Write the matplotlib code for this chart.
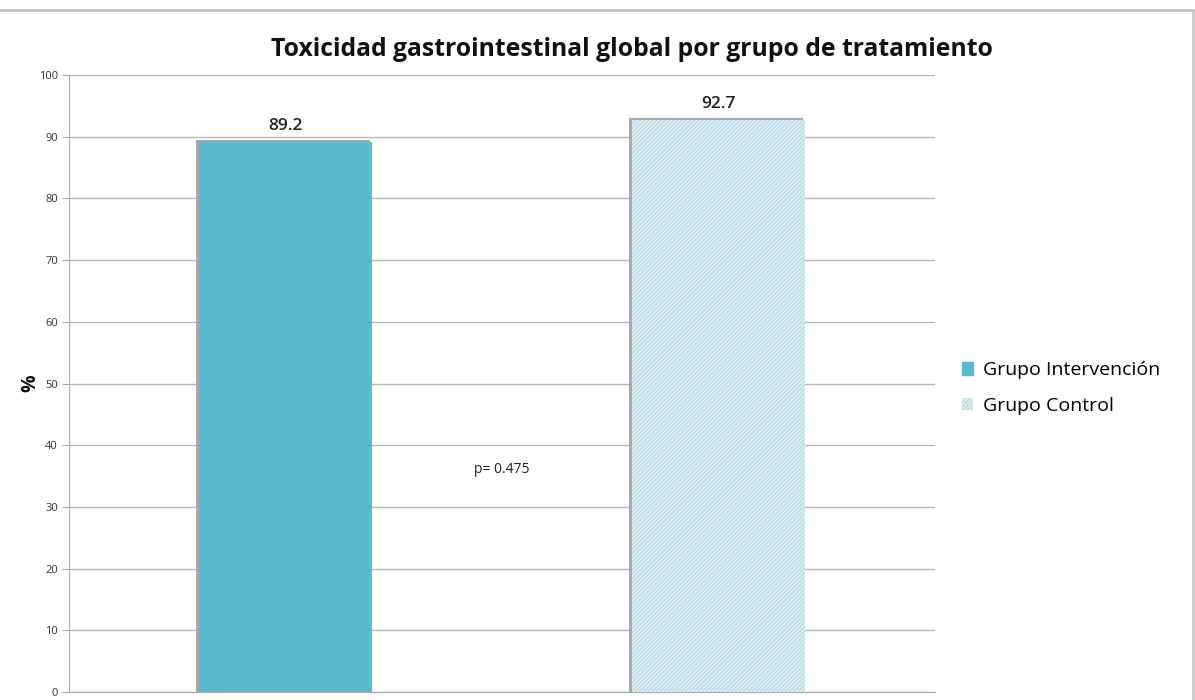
import matplotlib.pyplot as plt
from matplotlib.lines import Line2D
from matplotlib.patches import Patch

plt.rcParams['font.family'] = ['Open Sans', 'DejaVu Sans']
plt.rcParams['hatch.color'] = '#eef7fa'
plt.rcParams['hatch.linewidth'] = 0.7

# data
grupos = ['Grupo Intervención', 'Grupo Control']
valores = [89.2, 92.7]
colores = ['#5bb9ce', '#bfdde8']
hatches = [None, '////////']
p_valor = 'p= 0.475'

W, H = 1195, 700
fig = plt.figure(figsize=(W / 100, H / 100), dpi=100)
ax = fig.add_axes([69 / W, 1 - 692 / H, (935 - 69) / W, (692 - 75) / H])

x = range(len(grupos))
# soft shadow behind the bars
ax.bar([i - 0.006 for i in x], [v + 0.3 for v in valores], width=0.4, color='#aaaaaa', zorder=2)
for i, v in enumerate(valores):
    ax.bar(i, v, width=0.4, color=colores[i], hatch=hatches[i],
           edgecolor='#eef7fa' if hatches[i] else colores[i], linewidth=0, zorder=3)
    ax.text(i, v + 1.3, f'{v}', ha='center', va='bottom', fontsize=12.5,
            fontweight='semibold', color='#222222')

ax.text(0.5, 36, p_valor, ha='center', va='center', fontsize=10, color='#222222')

ax.set_xlim(-0.5, 1.5)
ax.set_ylim(0, 100)
ax.set_yticks(range(0, 101, 10))
ax.set_xticks([])
ax.tick_params(axis='y', labelsize=8, length=5, color='#aaaaaa', labelcolor='#333333', pad=3)
ax.grid(axis='y', color='#b8b8b8', linewidth=1, zorder=0)
for s in ['top', 'right']:
    ax.spines[s].set_visible(False)
for s in ['left', 'bottom']:
    ax.spines[s].set_color('#aaaaaa')

fig.text(30 / W, 1 - 383 / H, '%', rotation=90, ha='center', va='center',
         fontsize=14, fontweight='bold', color='#111111')

fig.text(632 / W, 1 - 50 / H, 'Toxicidad gastrointestinal global por grupo de tratamiento',
         ha='center', va='center', fontsize=17.8, fontweight='bold', color='#111111')

handles = [Patch(facecolor=colores[0], edgecolor=colores[0]),
           Patch(facecolor=colores[1], edgecolor='#eef7fa', hatch=hatches[1], linewidth=0)]
fig.legend(handles, grupos, loc='center left', bbox_to_anchor=(944 / W, 1 - 388 / H),
           frameon=False, fontsize=14, handlelength=0.6, handleheight=0.6,
           handletextpad=0.5, labelspacing=0.9)

# thin frame around the picture
fig.add_artist(Line2D([0, 1193 / W], [1 - 9.5 / H] * 2, color='#c0c0c0', lw=2, transform=fig.transFigure))
fig.add_artist(Line2D([1193 / W] * 2, [0, 1 - 9.5 / H], color='#c8c8c8', lw=2, transform=fig.transFigure))

fig.savefig('out.png', dpi=100)
